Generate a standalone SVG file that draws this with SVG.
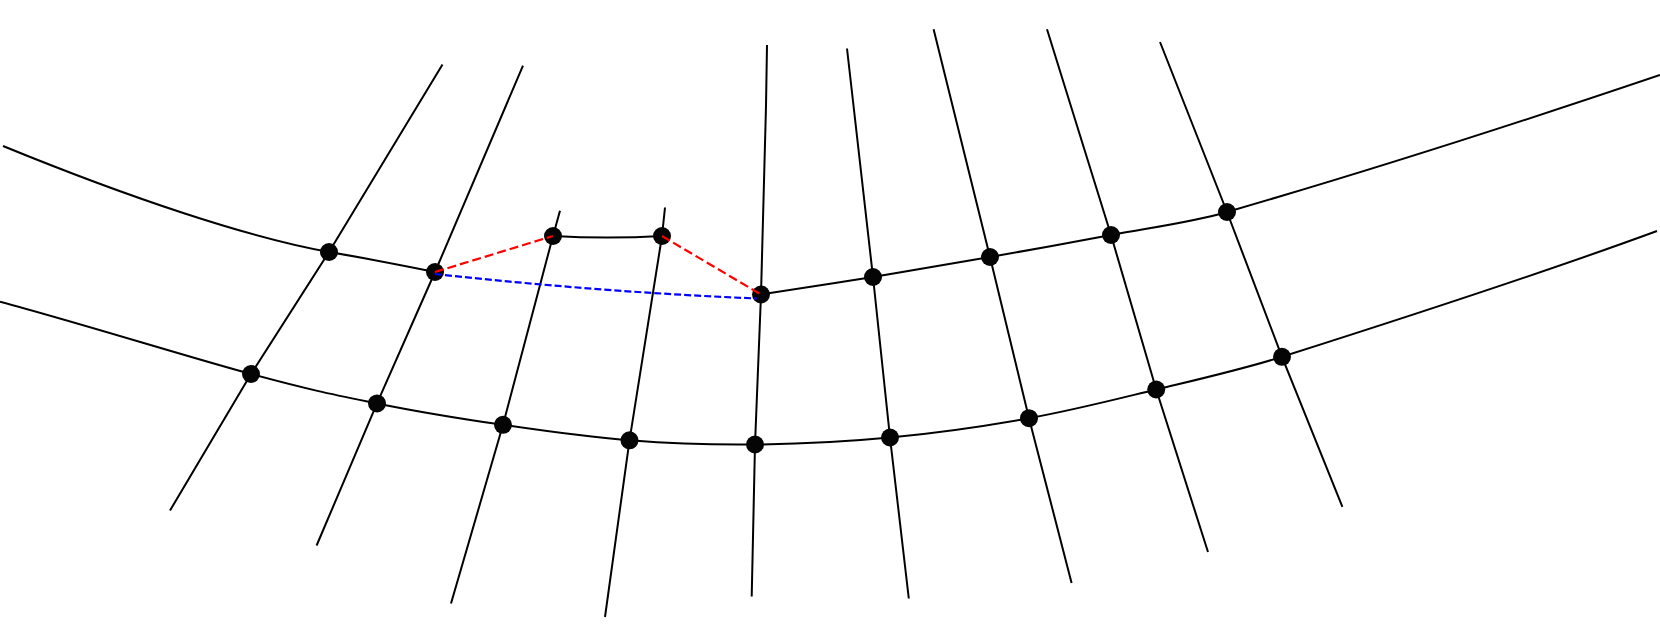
<svg xmlns="http://www.w3.org/2000/svg" width="1660" height="630" viewBox="0 0 1660 630">
<style>
.ln{fill:none;stroke:#000;stroke-width:2;stroke-linejoin:round;stroke-linecap:butt}
.dot{fill:#050505}
.red{fill:none;stroke:#ff0000;stroke-width:2.2;stroke-dasharray:9 4}
.blue{fill:none;stroke:#0000ff;stroke-width:2.2;stroke-dasharray:7 3}
</style>
<rect width="1660" height="630" fill="#fff"/>
<g id="connectors">
<path class="ln" d="M3,146 C130,198 250,238 329,252 C365,258 400,265 435,272"/>
<path class="ln" d="M553,236 Q608,239 662,236"/>
<path class="ln" d="M761,294.5 C779.7,291.6 834.8,283.3 873,277 C911.2,270.8 950.3,264 990,257 C1029.7,250 1071.5,242.5 1111,235 C1150.5,227.5 1189.5,222.9 1227,212 C1365,172 1524,121 1660,75"/>
<path class="ln" d="M0,301.7 C81,323.5 188.2,357 251,374 C313.8,391 335,394.9 377,403.4 C419,411.9 460.9,418.7 503,424.8 C545.1,431 587.5,437 629.5,440.3 C671.5,443.6 711.6,445 755,444.5 C798.4,444 844.3,441.9 890,437.5 C935.7,433.1 984.6,426.2 1029,418.2 C1073.4,410.2 1114,399.7 1156.2,389.5 C1198.4,379.3 1242,369.5 1282,356.8 C1401,319 1540,274 1657,231"/>
<path class="ln" d="M442.5,64.6 L329,252 L251,374 L170,510.5"/>
<path class="ln" d="M523,65.6 L435,272 L377,403.4 L316.6,545.5"/>
<path class="ln" d="M560,210.7 L553,236 L503,424.8 L451,603.5"/>
<path class="ln" d="M665,207.5 L662,236 L629.5,440.3 L605,617"/>
<path class="ln" d="M767,45 L766,106 L761,294.5 L755,444.5 L751.7,596.5"/>
<path class="ln" d="M847,48.5 L873,277 L890,437.5 L908.8,598.5"/>
<path class="ln" d="M933.6,29.2 L990,257 L1029,418.2 L1071.6,583"/>
<path class="ln" d="M1047,29.2 L1111,235 L1156.2,389.5 L1208,552"/>
<path class="ln" d="M1160,42 L1227,212 L1282,356.8 L1342.4,506.8"/>
</g>
<g id="nodes">
<g id="n-a1"><circle class="dot" cx="329" cy="252" r="9"/></g>
<g id="n-a2"><circle class="dot" cx="435" cy="272" r="9"/></g>
<g id="n-a3"><circle class="dot" cx="553" cy="236" r="9"/></g>
<g id="n-a4"><circle class="dot" cx="662" cy="236" r="9"/></g>
<g id="n-a5"><circle class="dot" cx="761" cy="294.5" r="9"/></g>
<g id="n-a6"><circle class="dot" cx="873" cy="277" r="9"/></g>
<g id="n-a7"><circle class="dot" cx="990" cy="257" r="9"/></g>
<g id="n-a8"><circle class="dot" cx="1111" cy="235" r="9"/></g>
<g id="n-a9"><circle class="dot" cx="1227" cy="212" r="9"/></g>
<g id="n-b1"><circle class="dot" cx="251" cy="374" r="9"/></g>
<g id="n-b2"><circle class="dot" cx="377" cy="403.4" r="9"/></g>
<g id="n-b3"><circle class="dot" cx="503" cy="424.8" r="9"/></g>
<g id="n-b4"><circle class="dot" cx="629.5" cy="440.3" r="9"/></g>
<g id="n-b5"><circle class="dot" cx="755" cy="444.5" r="9"/></g>
<g id="n-b6"><circle class="dot" cx="890" cy="437.5" r="9"/></g>
<g id="n-b7"><circle class="dot" cx="1029" cy="418.2" r="9"/></g>
<g id="n-b8"><circle class="dot" cx="1156.2" cy="389.5" r="9"/></g>
<g id="n-b9"><circle class="dot" cx="1282" cy="356.8" r="9"/></g>
</g>
<g id="dashed-connectors">
<path class="red" d="M435,272 L553,236"/>
<path class="red" d="M662,236 L761,294.5"/>
<path class="blue" d="M435,274 Q600,292 757,298.5"/>
</g>
</svg>
